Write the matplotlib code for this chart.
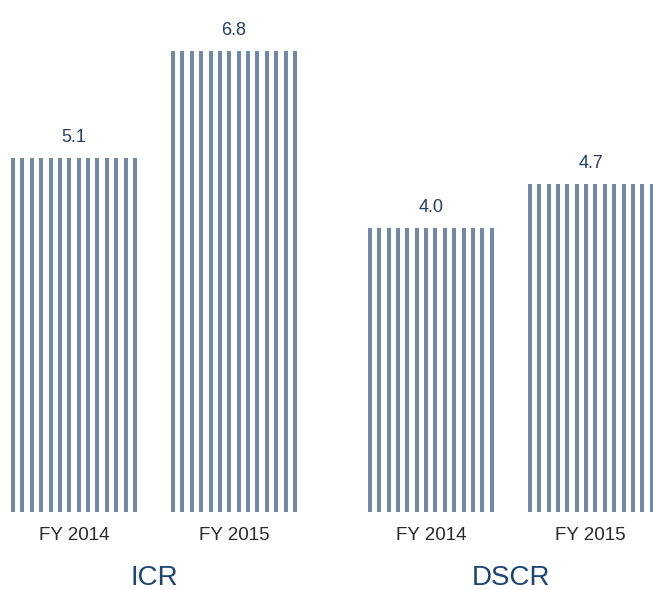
import matplotlib
matplotlib.use("Agg")
import matplotlib.pyplot as plt
import numpy as np

plt.rcParams['font.family'] = ['Liberation Sans', 'DejaVu Sans']

groups = ["ICR", "DSCR"]
years = ["FY 2014", "FY 2015"]
icr_values = [5.1, 6.8]
dscr_values = [4.0, 4.7]
value_labels = ["5.1", "6.8", "4.0", "4.7"]

values = icr_values + dscr_values
group_gap = 2.23
positions = []
for gi, _ in enumerate(groups):
    for yi, _ in enumerate(years):
        positions.append(gi * group_gap + yi)
positions = np.array(positions)

bar_width = 0.7875
n_stripes = 14
stripe_w = 0.025
baseline = -0.5
stripe_color = '#7189A8'

fig = plt.figure(figsize=(6.53, 5.90), dpi=100)
ax = fig.add_axes([0, 0.1322, 1, 0.8678])
ax.set_xlim(-0.4625, 3.619)
ax.set_ylim(baseline, 7.61)
ax.axis('off')

for pos, val, lab in zip(positions, values, value_labels):
    left = pos - bar_width / 2
    centers = np.linspace(left + stripe_w / 2, left + bar_width - stripe_w / 2, n_stripes)
    ax.bar(centers, val - baseline, width=stripe_w, bottom=baseline,
           color=stripe_color, edgecolor='none', clip_on=True)
    ax.annotate(lab, xy=(pos, val), xytext=(0, 16), textcoords='offset pixels',
                ha='center', va='baseline', fontsize=13, color='#253F60')

i = 0
for gi, g in enumerate(groups):
    gpos = []
    for yi, y in enumerate(years):
        p = positions[i]
        gpos.append(p)
        ax.annotate(y, xy=(p, 0), xycoords=('data', 'axes fraction'),
                    xytext=(0, -28), textcoords='offset pixels',
                    ha='center', va='baseline', fontsize=13.5, color='#2a2a2a')
        i += 1
    ax.annotate(g, xy=(np.mean(gpos), 0), xycoords=('data', 'axes fraction'),
                xytext=(0, -73), textcoords='offset pixels',
                ha='center', va='baseline', fontsize=20, color='#1A4575',
                annotation_clip=False)

fig.savefig("out.png", dpi=100)
